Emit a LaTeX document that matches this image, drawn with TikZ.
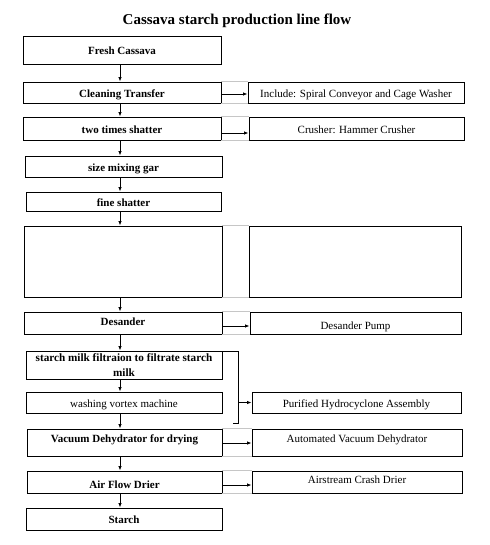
\documentclass[tikz,border=0pt]{standalone}
\usepackage{fontspec}
\setmainfont{Liberation Serif}
\usetikzlibrary{arrows.meta}
\begin{document}
\begin{tikzpicture}[x=1pt,y=-1pt,
  lbox/.style={draw=black,line width=0.9pt,inner xsep=1pt,inner ysep=0pt,font=\fontsize{11}{13}\selectfont\bfseries,align=center,text height=12pt,text depth=2.5pt},
  rbox/.style={draw=black,line width=0.9pt,inner xsep=1pt,inner ysep=0pt,font=\fontsize{11}{13}\selectfont,align=center,text height=12pt,text depth=2.5pt},
  arr/.style={line width=0.8pt,-{Latex[length=4.5pt,width=3.5pt]}},
  faint/.style={draw=gray!45,line width=0.6pt}]
\useasboundingbox[fill=white] (0,0) rectangle (489,545);
\node[font=\fontsize{15}{17}\selectfont\bfseries] (title) at (237,20.5) {Cassava starch production line flow};
% left column
\node[lbox,minimum width=198pt,minimum height=28pt] (b1) at (122,50) {Fresh Cassava};
\node[lbox,minimum width=198pt,minimum height=21pt] (b2) at (122,92.5) {Cleaning Transfer};
\node[lbox,minimum width=198pt,minimum height=23pt] (b3) at (122,128.5) {two times shatter};
\node[lbox,minimum width=197pt,minimum height=21pt] (b4) at (123.5,166.5) {size mixing gar};
\node[lbox,minimum width=195pt,minimum height=19pt] (b5) at (123.5,201.5) {fine shatter};
\node[lbox,minimum width=198pt,minimum height=71pt] (b6) at (123,261.5) {};
\node[lbox,minimum width=198pt,minimum height=22pt,text height=10pt,text depth=4.5pt] (b7) at (123,323) {Desander};
\node[lbox,minimum width=196pt,minimum height=28pt,text height=,text depth=,font=\fontsize{11.2}{15}\selectfont\bfseries] (b8) at (124,365) {starch milk filtraion to filtrate starch\\milk};
\node[rbox,minimum width=196pt,minimum height=21pt] (b9) at (124,402.5) {washing vortex machine};
\node[lbox,minimum width=195pt,minimum height=27pt,text height=8pt,text depth=7.5pt] (b10) at (124.5,442.5) {Vacuum Dehydrator for drying};
\node[lbox,minimum width=195pt,minimum height=22pt,text height=14pt,text depth=0.5pt] (b11) at (124.5,482) {Air Flow Drier};
\node[lbox,minimum width=196pt,minimum height=22pt] (b12) at (124,519) {Starch};
% right column
\node[rbox,minimum width=216pt,minimum height=21pt] (r2) at (356,92.5) {Include: Spiral Conveyor and Cage Washer};
\node[rbox,minimum width=215pt,minimum height=23pt] (r3) at (356.5,128.5) {Crusher: Hammer Crusher};
\node[rbox,minimum width=212pt,minimum height=71pt] (r6) at (355,261.5) {};
\node[rbox,minimum width=211pt,minimum height=22pt,text height=14pt,text depth=0.5pt] (r7) at (355.5,323) {Desander Pump};
\node[rbox,minimum width=209pt,minimum height=21pt] (r9) at (356.5,402.5) {Purified Hydrocyclone Assembly};
\node[rbox,minimum width=210pt,minimum height=27pt,text height=8pt,text depth=7.5pt] (r10) at (357,442.5) {Automated Vacuum Dehydrator};
\node[rbox,minimum width=210pt,minimum height=22pt,text height=8pt,text depth=4.5pt] (r11) at (357,482) {Airstream Crash Drier};
% faint guide lines between columns
\foreach \l/\r in {b2/r2,b3/r3,b6/r6,b7/r7,b10/r10,b11/r11}{
  \draw[faint] (\l.north east) -- (\r.north west);
  \draw[faint] (\l.south east) -- (\r.south west);
}
% vertical flow arrows
\coordinate (ax) at (120,0);
\foreach \a/\b in {b1/b2,b2/b3,b3/b4,b4/b5,b5/b6,b6/b7,b7/b8,b8/b9,b9/b10,b10/b11,b11/b12}{
  \draw[arr] (\a.south -| ax) -- (\b.north -| ax);
}
% horizontal arrows
\draw[arr] ([yshift=-1.5pt]b2.east) -- ([yshift=-1.5pt]r2.west);
\draw[arr] ([yshift=-4.5pt]b3.east) -- ([yshift=-4.5pt]r3.west);
\draw[arr] ([yshift=-3pt]b7.east) -- ([yshift=-3pt]r7.west);
\draw[arr] ([yshift=-0.5pt]b10.east) -- ([yshift=-0.5pt]r10.west);
\draw[arr] ([yshift=-3pt]b11.east) -- ([yshift=-3pt]r11.west);
% bracket
\coordinate (bx) at (238,0);
\coordinate (bb) at (233,423);
\draw[line width=0.8pt] ([yshift=-1pt]b8.north east) -| (bb -| bx) -- (bb);
\draw[arr] (r9.west -| bx) -- (r9.west);
\end{tikzpicture}
\end{document}
